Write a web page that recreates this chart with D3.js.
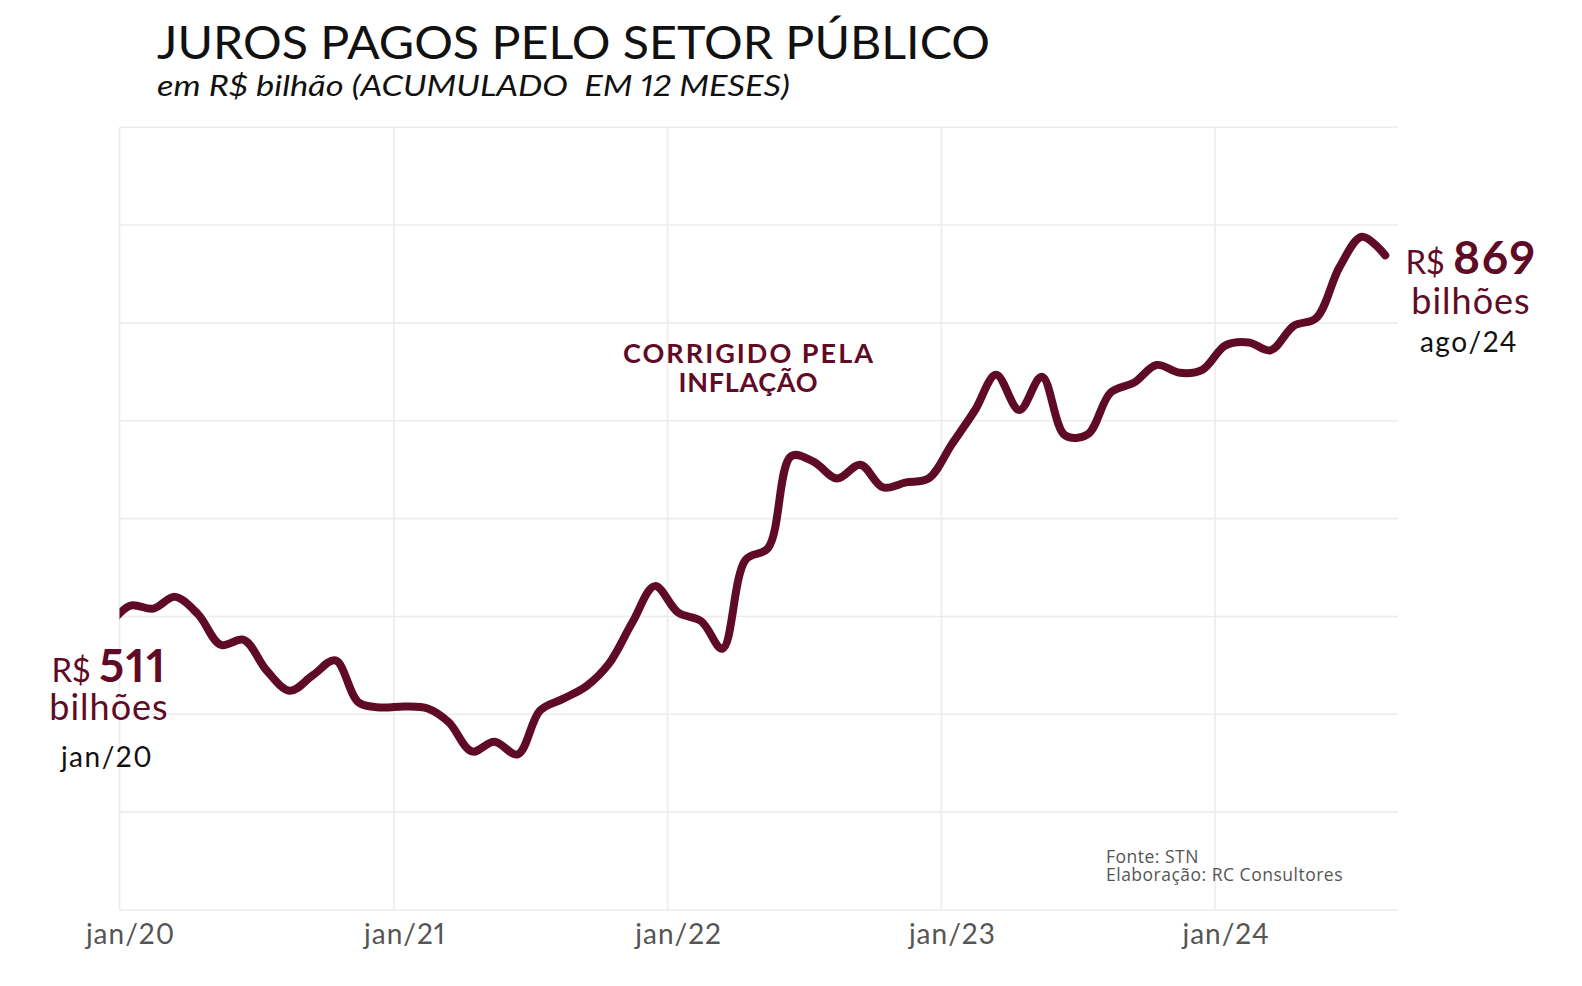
<!DOCTYPE html>
<html>
<head>
<meta charset="utf-8">
<script src="https://cdn.jsdelivr.net/npm/d3@7"></script>
<style>
  html, body { margin: 0; padding: 0; background: #ffffff; }
  svg { display: block; font-family: Lato, "Open Sans", sans-serif; font-feature-settings: "pnum"; }
</style>
</head>
<body>
<svg id="chart" width="1582" height="986"></svg>
<script>
// ---------- DATA ----------
const months = [
  "2019-12",
  "2020-01","2020-02","2020-03","2020-04","2020-05","2020-06","2020-07","2020-08","2020-09","2020-10","2020-11","2020-12",
  "2021-01","2021-02","2021-03","2021-04","2021-05","2021-06","2021-07","2021-08","2021-09","2021-10","2021-11","2021-12",
  "2022-01","2022-02","2022-03","2022-04","2022-05","2022-06","2022-07","2022-08","2022-09","2022-10","2022-11","2022-12",
  "2023-01","2023-02","2023-03","2023-04","2023-05","2023-06","2023-07","2023-08","2023-09","2023-10","2023-11","2023-12",
  "2024-01","2024-02","2024-03","2024-04","2024-05","2024-06","2024-07","2024-08"
];
const juros = [
  488,
  511, 508, 520, 502, 471, 476, 445, 424, 440, 455, 412, 407,
  408, 406, 392, 362, 372, 359, 404, 416, 429, 452, 494, 531,
  504, 495, 467, 558, 570, 664, 658, 641, 655, 632, 637, 641,
  676, 711, 747, 711, 745, 685, 686, 729, 739, 757, 749, 752,
  777, 780, 772, 797, 805, 857, 888, 869
];
const xTickMonths = ["2020-01","2021-01","2022-01","2023-01","2024-01"];
const xTickLabels = ["jan/20","jan/21","jan/22","jan/23","jan/24"];
const yGridValues = [200, 300, 400, 500, 600, 700, 800, 900, 1000];
const xGridYears = [2020, 2021, 2022, 2023, 2024];

const title = "JUROS PAGOS PELO SETOR PÚBLICO";
const subtitle = "em R$ bilhão (ACUMULADO  EM 12 MESES)";
const annotation = ["CORRIGIDO PELA", "INFLAÇÃO"];
const startLabel = { prefix: "R$", value: "511", unit: "bilhões", date: "jan/20" };
const endLabel = { prefix: "R$", value: "869", unit: "bilhões", date: "ago/24" };
const caption = ["Fonte: STN", "Elaboração: RC Consultores"];

// ---------- SETUP ----------
const maroon = "#600b26";
const gridColor = "#ececec";
const svg = d3.select("#chart");
svg.append("rect").attr("width", 1582).attr("height", 986).attr("fill", "#fff");

const plot = { left: 119.5, right: 1398, top: 127.2, bottom: 910 };
const parseMonth = d3.timeParse("%Y-%m-%d");
const dateOf = m => parseMonth(m + "-15");

const x = d3.scaleTime()
  .domain([new Date(2020, 0, 1), new Date(2024, 8, 1)])
  .range([plot.left, plot.right]);
const y = d3.scaleLinear()
  .domain([200, 1000])
  .range([plot.bottom, plot.top]);

const data = months.map((m, i) => ({ date: dateOf(m), value: juros[i] }));

// ---------- GRID ----------
const grid = svg.append("g");
grid.selectAll("line.h").data(yGridValues).join("line")
  .attr("x1", plot.left).attr("x2", plot.right)
  .attr("y1", d => y(d)).attr("y2", d => y(d))
  .attr("stroke", gridColor).attr("stroke-width", 1.6);
grid.selectAll("line.v").data(xGridYears).join("line")
  .attr("x1", d => x(new Date(d, 0, 1))).attr("x2", d => x(new Date(d, 0, 1)))
  .attr("y1", plot.top).attr("y2", plot.bottom)
  .attr("stroke", gridColor).attr("stroke-width", 1.6);

// ---------- X AXIS LABELS ----------
const xAxis = d3.axisBottom(x)
  .tickValues(xTickMonths.map(dateOf))
  .tickFormat((d, i) => xTickLabels[i])
  .tickSize(0);
const ax = svg.append("g").attr("transform", `translate(0,${plot.bottom})`).call(xAxis);
ax.select(".domain").remove();
ax.selectAll("text")
  .attr("y", 34).attr("dy", 0)
  .attr("fill", "#555555")
  .style("font-family", "Lato, sans-serif")
  .style("font-size", "28px")
  .style("letter-spacing", "1px");

// ---------- LINE ----------
svg.append("clipPath").attr("id", "plotclip")
  .append("rect")
  .attr("x", plot.left).attr("y", 0)
  .attr("width", plot.right - plot.left).attr("height", 986);

const line = d3.line()
  .x(d => x(d.date))
  .y(d => y(d.value))
  .curve(d3.curveCatmullRom.alpha(0.5));

svg.append("path")
  .datum(data)
  .attr("clip-path", "url(#plotclip)")
  .attr("d", line)
  .attr("fill", "none")
  .attr("stroke", maroon)
  .attr("stroke-width", 8)
  .attr("stroke-linecap", "round")
  .attr("stroke-linejoin", "round");

// ---------- TITLES ----------
svg.append("text")
  .attr("x", 157).attr("y", 59)
  .attr("fill", "#111")
  .style("font-size", "46px")
  .attr("textLength", 833).attr("lengthAdjust", "spacingAndGlyphs")
  .text(title);
svg.append("text")
  .attr("x", 157).attr("y", 96)
  .attr("fill", "#111")
  .style("font-size", "29px")
  .style("font-style", "italic")
  .attr("textLength", 633).attr("lengthAdjust", "spacingAndGlyphs")
  .style("white-space", "pre")
  .text(subtitle);

// ---------- ANNOTATION ----------
const annWidths = [250, 139];
svg.append("g").selectAll("text").data(annotation).join("text")
  .attr("x", 748).attr("y", (d, i) => 363 + i * 29)
  .attr("text-anchor", "middle")
  .attr("fill", maroon)
  .style("font-size", "27px")
  .style("font-weight", 700)
  .attr("textLength", (d, i) => annWidths[i])
  .attr("lengthAdjust", "spacing")
  .text(d => d);

// ---------- END LABELS ----------
function endLabelBlock(lbl, cx, yVal, yUnit, yDate) {
  const g = svg.append("g");
  const t = g.append("text")
    .attr("x", cx).attr("y", yVal)
    .attr("text-anchor", "middle")
    .attr("fill", maroon);
  t.append("tspan").style("font-size", "33px").text(lbl.prefix + " ");
  t.append("tspan").style("font-size", "46px").style("font-weight", 700)
    .style("letter-spacing", "1.5px").text(lbl.value);
  g.append("text")
    .attr("x", cx).attr("y", yUnit)
    .attr("text-anchor", "middle")
    .attr("fill", maroon)
    .style("font-size", "36px")
    .style("letter-spacing", "1px")
    .text(lbl.unit);
  g.append("text")
    .attr("x", cx - 2).attr("y", yDate)
    .attr("text-anchor", "middle")
    .attr("fill", "#111")
    .style("font-size", "28px")
    .style("letter-spacing", "1.5px")
    .text(lbl.date);
}
endLabelBlock(startLabel, 109, 682, 720, 767);
endLabelBlock(endLabel, 1471, 274, 314, 352);

// ---------- CAPTION ----------
svg.append("g").selectAll("text").data(caption).join("text")
  .attr("x", 1106).attr("y", (d, i) => 863 + i * 18)
  .attr("fill", "#555555")
  .style("font-family", "'Open Sans', sans-serif")
  .style("font-size", "17.5px")
  .style("letter-spacing", "0.5px")
  .text(d => d);
</script>
</body>
</html>
